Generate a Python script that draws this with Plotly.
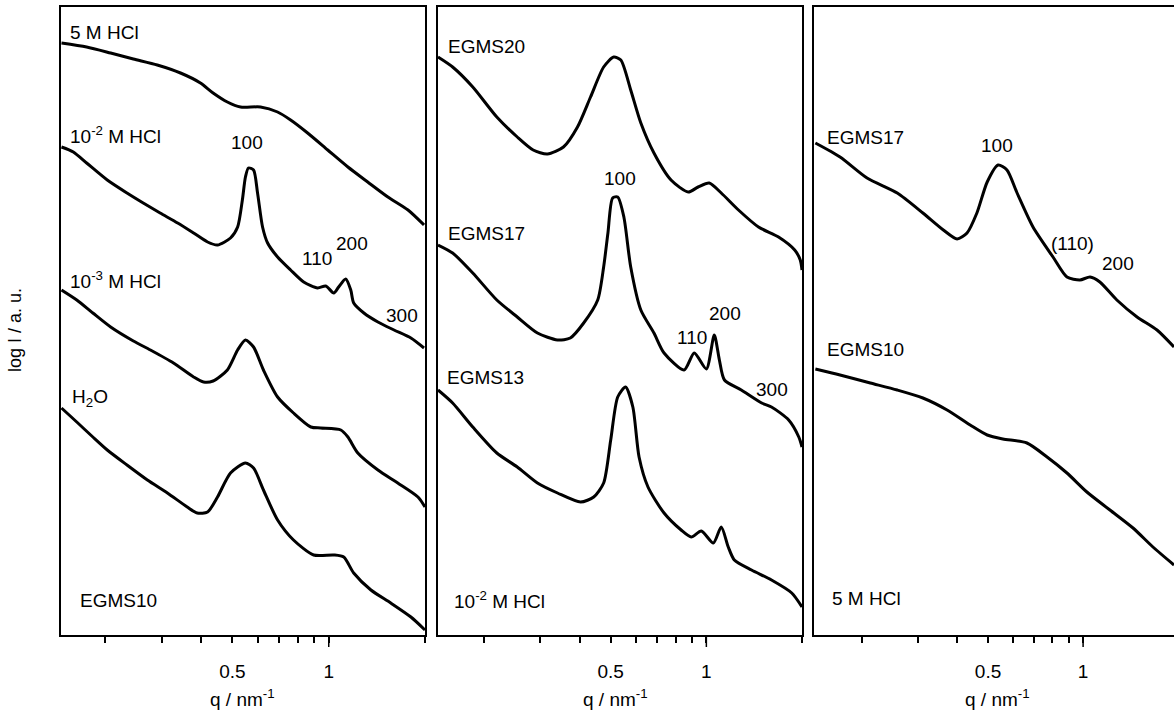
import math
import plotly.graph_objects as go

W, H = 1174, 713

# ---------------- data (q in nm^-1, intensity in arbitrary log units) -------------
# Panel 1
q_5M = [0.146, 0.175, 0.208, 0.245, 0.291, 0.344, 0.397, 0.435, 0.482, 0.530, 0.612,
        0.692, 0.760, 0.859, 0.993, 1.148, 1.324, 1.531, 1.770, 1.986]
I_5M = [592, 588, 582, 576, 570, 562, 552, 542, 533, 528, 528, 523, 515, 502, 485, 468,
        453, 438, 425, 410]

q_1e2 = [0.146, 0.159, 0.175, 0.203, 0.234, 0.263, 0.297, 0.337, 0.378, 0.418, 0.449,
         0.493, 0.519, 0.537, 0.549, 0.561, 0.582, 0.599, 0.621, 0.644, 0.692, 0.760,
         0.835, 0.923, 0.979, 1.037, 1.074, 1.130, 1.172, 1.197, 1.288, 1.425, 1.600,
         1.807, 1.986]
I_1e2 = [488, 483, 472, 455, 442, 432, 422, 412, 402, 393, 390, 397, 408, 435, 458, 467,
         465, 442, 408, 392, 378, 365, 353, 347, 349, 342, 348, 356, 345, 332, 322, 313,
         305, 297, 287]

q_1e3 = [0.146, 0.163, 0.183, 0.208, 0.245, 0.277, 0.327, 0.378, 0.406, 0.435, 0.482,
         0.519, 0.549, 0.582, 0.625, 0.692, 0.776, 0.879, 0.944, 1.091, 1.148, 1.233,
         1.425, 1.644, 1.901, 2.0]
I_1e3 = [345, 335, 322, 308, 294, 285, 272, 258, 253, 254, 265, 285, 295, 288, 265, 238,
         222, 208, 207, 205, 198, 182, 165, 152, 138, 128]

q_h2o = [0.146, 0.163, 0.183, 0.203, 0.234, 0.271, 0.313, 0.361, 0.388, 0.418, 0.449,
         0.493, 0.549, 0.582, 0.625, 0.692, 0.776, 0.897, 1.037, 1.114, 1.197, 1.355,
         1.563, 1.807, 2.0]
I_h2o = [227, 213, 198, 185, 170, 155, 142, 128, 122, 123, 138, 162, 172, 167, 145, 115,
         95, 80, 80, 78, 62, 45, 32, 18, 5]

# Panel 2
q_e20 = [0.143, 0.159, 0.184, 0.219, 0.254, 0.285, 0.316, 0.355, 0.393, 0.432, 0.475,
         0.511, 0.538, 0.578, 0.622, 0.684, 0.774, 0.877, 0.942, 1.021, 1.114, 1.262,
         1.459, 1.687, 1.897, 1.975, 2.0]
I_e20 = [578, 568, 548, 518, 498, 485, 481, 488, 508, 538, 568, 578, 575, 545, 512, 482,
         455, 443, 448, 452, 442, 425, 408, 398, 385, 375, 365]

q_e17 = [0.143, 0.159, 0.184, 0.219, 0.254, 0.294, 0.340, 0.373, 0.411, 0.455, 0.475,
         0.490, 0.507, 0.526, 0.550, 0.578, 0.622, 0.684, 0.736, 0.851, 0.916, 1.0,
         1.059, 1.099, 1.140, 1.288, 1.493, 1.603, 1.816, 1.954, 2.0]
I_e17 = [390, 382, 362, 335, 318, 302, 295, 297, 312, 335, 368, 402, 437, 438, 418, 368,
         325, 302, 282, 265, 282, 266, 300, 275, 255, 245, 232, 228, 215, 198, 188]

q_e13 = [0.143, 0.159, 0.184, 0.219, 0.254, 0.294, 0.340, 0.402, 0.442, 0.475, 0.500,
         0.526, 0.557, 0.587, 0.614, 0.655, 0.736, 0.833, 0.896, 0.964, 1.052, 1.114,
         1.172, 1.225, 1.387, 1.603, 1.857, 2.0]
I_e13 = [245, 232, 208, 182, 168, 152, 142, 133, 138, 152, 195, 238, 248, 228, 178, 148,
         122, 105, 98, 104, 92, 108, 88, 75, 65, 55, 42, 28]

# Panel 3
q_p3_e17 = [0.142, 0.170, 0.207, 0.258, 0.311, 0.361, 0.399, 0.429, 0.461, 0.497, 0.538,
            0.574, 0.618, 0.694, 0.803, 0.889, 0.977, 1.052, 1.130, 1.279, 1.482, 1.714,
            1.94]
I_p3_e17 = [492, 478, 457, 442, 422, 405, 396, 402, 422, 453, 470, 465, 442, 408, 378,
            358, 355, 358, 353, 335, 318, 305, 288]

q_p3_e10 = [0.142, 0.170, 0.212, 0.258, 0.311, 0.371, 0.439, 0.497, 0.557, 0.664, 0.769,
            0.889, 1.028, 1.216, 1.439, 1.664, 1.94]
I_p3_e10 = [266, 260, 252, 245, 237, 225, 210, 200, 196, 192, 178, 162, 143, 125, 107,
            88, 70]

major_tick_vals = [0.5, 1]
major_tick_text = ["0.5", "1"]
minor_tick_vals = [0.2, 0.3, 0.4, 0.6, 0.7, 0.8, 0.9, 2]

x_ranges = [(0.1455, 2.0), (0.143, 2.0), (0.1406, 1.94)]
y_range = (0, 628)

# labels: (text, x_px, y_px, anchor)
labels = [
    ("5 M HCl", 68, 32, "left"),
    ("10<sup>-2</sup> M HCl", 68, 135, "left"),
    ("100", 247, 143, "center"),
    ("110", 317, 258, "center"),
    ("200", 352, 243, "center"),
    ("10<sup>-3</sup> M HCl", 68, 280, "left"),
    ("300", 402, 315, "center"),
    ("H<sub>2</sub>O", 70, 398, "left"),
    ("EGMS10", 78, 600, "left"),
    ("EGMS20", 446, 47, "left"),
    ("100", 620, 178, "center"),
    ("EGMS17", 446, 233, "left"),
    ("200", 725, 313, "center"),
    ("110", 692, 337, "center"),
    ("EGMS13", 445, 377, "left"),
    ("300", 772, 389, "center"),
    ("10<sup>-2</sup> M HCl", 452, 600, "left"),
    ("EGMS17", 825, 137, "left"),
    ("100", 997, 145, "center"),
    ("(110)", 1072, 243, "center"),
    ("200", 1118, 263, "center"),
    ("EGMS10", 825, 350, "left"),
    ("5 M HCl", 830, 598, "left"),
]

# ---------------- figure ---------------------------------------------------------
panels_px = [(61, 425), (438, 802), (814, 1174)]
top_px, bot_px = 7, 635
ydom = [1 - bot_px / H, 1 - top_px / H]

fig = go.Figure()
series = [
    (q_5M, I_5M, 1), (q_1e2, I_1e2, 1), (q_1e3, I_1e3, 1), (q_h2o, I_h2o, 1),
    (q_e20, I_e20, 2), (q_e17, I_e17, 2), (q_e13, I_e13, 2),
    (q_p3_e17, I_p3_e17, 3), (q_p3_e10, I_p3_e10, 3),
]
for qx, iy, p in series:
    fig.add_trace(go.Scatter(
        x=qx, y=iy, mode="lines",
        line=dict(color="black", width=3, shape="spline", smoothing=0.7),
        xaxis="x" if p == 1 else f"x{p}", yaxis="y" if p == 1 else f"y{p}",
        showlegend=False, hoverinfo="skip"))

FAM = "Liberation Sans, Arial, sans-serif"
font = dict(family=FAM, size=19, color="black")
layout = dict(width=W, height=H, margin=dict(l=0, r=0, t=0, b=0),
              paper_bgcolor="white", plot_bgcolor="white", font=font, showlegend=False)

for i, (l, r) in enumerate(panels_px):
    sx = "" if i == 0 else str(i + 1)
    layout[f"xaxis{sx}"] = dict(
        type="log", domain=[l / W, min(r / W, 1.0)],
        range=[math.log10(x_ranges[i][0]), math.log10(x_ranges[i][1])],
        anchor=f"y{sx}", showgrid=False, zeroline=False,
        showline=True, linecolor="black", linewidth=2, mirror=True,
        ticks="outside", ticklen=6, tickwidth=1.5, tickcolor="black",
        tickmode="array", tickvals=major_tick_vals, ticktext=major_tick_text,
        minor=dict(tickmode="array", tickvals=minor_tick_vals, ticks="outside",
                   ticklen=6, tickwidth=1.5, tickcolor="black", showgrid=False),
        ticklabelstandoff=12, tickfont=font)
    layout[f"yaxis{sx}"] = dict(
        domain=ydom, range=list(y_range), anchor=f"x{sx}",
        showgrid=False, zeroline=False, showticklabels=False, ticks="",
        showline=True, linecolor="black", linewidth=2, mirror=(i < 2))

fig.update_layout(**layout)

# longer tick at q = 1
for i in range(3):
    sx = "" if i == 0 else str(i + 1)
    fig.add_shape(type="line", xref=f"x{sx}", yref=f"y{sx} domain",
                  x0=1, x1=1, y0=0, y1=-12 / (bot_px - top_px),
                  line=dict(color="black", width=1.5))

for text, xp, yp, anc in labels:
    fig.add_annotation(text=text, x=xp / W, y=1 - yp / H, xref="paper", yref="paper",
                       xanchor=anc, yanchor="middle", showarrow=False, font=font)

title_cx = [242, 615, 997]
for cx in title_cx:
    fig.add_annotation(text="q / nm<sup>-1</sup>", x=cx / W, y=1 - 698 / H,
                       xref="paper", yref="paper", xanchor="center", yanchor="middle",
                       showarrow=False, font=font)

fig.add_annotation(text="log I / a. u.", x=15 / W, y=1 - 330 / H, xref="paper",
                   yref="paper", textangle=-90, xanchor="center", yanchor="middle",
                   showarrow=False, font=dict(family=FAM, size=18, color="black"))

fig.write_html("out.html")
